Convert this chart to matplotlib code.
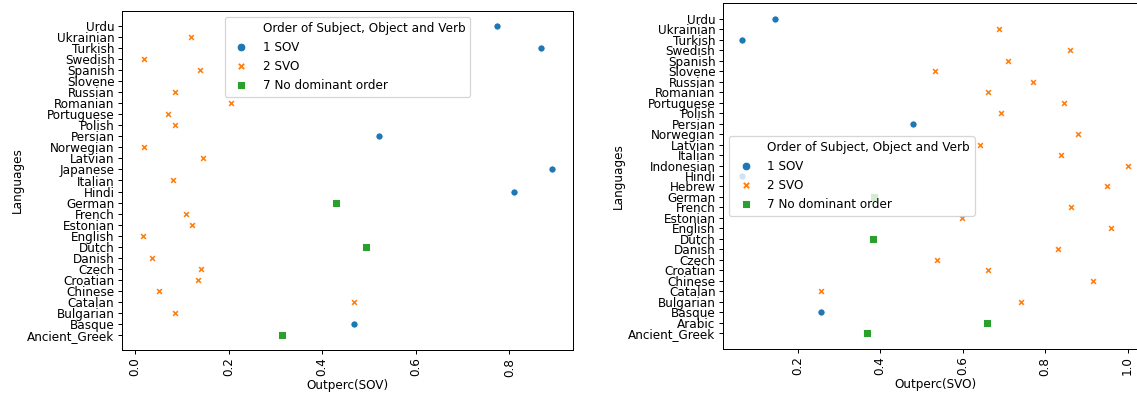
# Word order scatter: Outperc(SOV) / Outperc(SVO) by language
import numpy as np
import matplotlib.pyplot as plt
from matplotlib.lines import Line2D

# left panel data (bottom -> top)
langs_sov = ['Ancient_Greek', 'Basque', 'Bulgarian', 'Catalan', 'Chinese', 'Croatian',
             'Czech', 'Danish', 'Dutch', 'English', 'Estonian', 'French', 'German',
             'Hindi', 'Italian', 'Japanese', 'Latvian', 'Norwegian', 'Persian', 'Polish',
             'Portuguese', 'Romanian', 'Russian', 'Slovene', 'Spanish', 'Swedish',
             'Turkish', 'Ukrainian', 'Urdu']
sov_values = [0.315, 0.467, 0.086, 0.467, 0.051, 0.134,
              0.141, 0.037, 0.493, 0.016, 0.122, 0.108, 0.429,
              0.809, 0.082, 0.892, 0.146, 0.020, 0.522, 0.086,
              0.071, 0.204, 0.086, np.nan, 0.138, 0.020,
              0.868, 0.119, 0.774]
sov_order = ['7 No dominant order', '1 SOV', '2 SVO', '2 SVO', '2 SVO', '2 SVO',
             '2 SVO', '2 SVO', '7 No dominant order', '2 SVO', '2 SVO', '2 SVO',
             '7 No dominant order', '1 SOV', '2 SVO', '1 SOV', '2 SVO', '2 SVO',
             '1 SOV', '2 SVO', '2 SVO', '2 SVO', '2 SVO', '2 SVO', '2 SVO', '2 SVO',
             '1 SOV', '2 SVO', '1 SOV']

# right panel data (bottom -> top)
langs_svo = ['Ancient_Greek', 'Arabic', 'Basque', 'Bulgarian', 'Catalan', 'Chinese',
             'Croatian', 'Czech', 'Danish', 'Dutch', 'English', 'Estonian', 'French',
             'German', 'Hebrew', 'Hindi', 'Indonesian', 'Italian', 'Latvian',
             'Norwegian', 'Persian', 'Polish', 'Portuguese', 'Romanian', 'Russian',
             'Slovene', 'Spanish', 'Swedish', 'Turkish', 'Ukrainian', 'Urdu']
svo_values = [0.367, 0.660, 0.256, 0.742, 0.256, 0.917,
              0.661, 0.539, 0.832, 0.383, 0.959, 0.598, 0.863,
              0.384, 0.949, 0.066, 1.000, 0.838, 0.643,
              0.879, 0.479, 0.693, 0.846, 0.662, 0.771,
              0.533, 0.711, 0.861, 0.066, 0.687, 0.144]
svo_order = ['7 No dominant order', '7 No dominant order', '1 SOV', '2 SVO', '2 SVO',
             '2 SVO', '2 SVO', '2 SVO', '2 SVO', '7 No dominant order', '2 SVO',
             '2 SVO', '2 SVO', '7 No dominant order', '2 SVO', '1 SOV', '2 SVO',
             '2 SVO', '2 SVO', '2 SVO', '1 SOV', '2 SVO', '2 SVO', '2 SVO', '2 SVO',
             '2 SVO', '2 SVO', '2 SVO', '1 SOV', '2 SVO', '1 SOV']

order_levels = ['1 SOV', '2 SVO', '7 No dominant order']
styles = {'1 SOV': ('#1f77b4', 'o'),
          '2 SVO': ('#ff7f0e', 'X'),
          '7 No dominant order': ('#2ca02c', 's')}
legend_title = 'Order of Subject, Object and Verb'

plt.rcParams['font.family'] = ['DejaVu Sans']
plt.rcParams['font.size'] = 9.6

W, H = 1137, 394
DPI = 90
fig = plt.figure(figsize=(W / DPI, H / DPI), dpi=DPI)


def px_axes(left, right, top, bottom):
    return fig.add_axes([left / W, 1 - bottom / H, (right - left) / W, (bottom - top) / H])


def draw(ax, langs, values, orders, xlabel, legend_loc):
    y = np.arange(len(langs))
    values = np.array(values, dtype=float)
    orders = np.array(orders)
    for lvl in order_levels:
        m = orders == lvl
        c, mk = styles[lvl]
        ax.scatter(values[m], y[m], s=34, c=c, marker=mk,
                   edgecolors='white', linewidths=0.75, zorder=2)
    ax.set_yticks(y)
    ax.set_yticklabels(langs)
    ax.set_ylim(-0.05 * (len(langs) - 1), (len(langs) - 1) * 1.05)
    ax.tick_params(axis='x', labelrotation=90, pad=2.5)
    ax.tick_params(axis='y', pad=2.5)
    ax.set_xlabel(xlabel, labelpad=2)
    ax.set_ylabel('Languages', labelpad=3)
    handles = [Line2D([], [], linestyle='none', marker=None)]
    labels = [legend_title]
    for lvl in order_levels:
        c, mk = styles[lvl]
        handles.append(Line2D([], [], linestyle='none', marker=mk, color=c,
                              markeredgecolor='white', markeredgewidth=0.75, markersize=7))
        labels.append(lvl)
    ax.legend(handles, labels, loc=legend_loc)


ax1 = px_axes(122, 573, 11, 350)
draw(ax1, langs_sov, sov_values, sov_order, 'Outperc(SOV)', 'upper center')
ax1.set_xlim(-0.028, 0.936)

ax2 = px_axes(723, 1147, 3, 349)
draw(ax2, langs_svo, svo_values, svo_order, 'Outperc(SVO)', 'center left')
ax2.set_xlim(0.019, 1.047)

fig.savefig('out.png', dpi=DPI)
